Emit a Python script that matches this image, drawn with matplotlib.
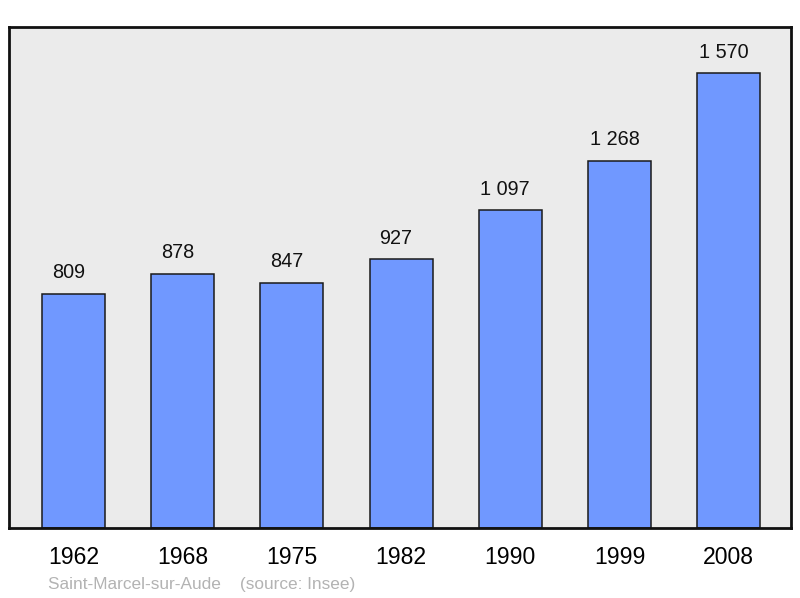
import matplotlib
matplotlib.use("Agg")
import matplotlib.pyplot as plt

years = ["1962", "1968", "1975", "1982", "1990", "1999", "2008"]
population = [809, 878, 847, 927, 1097, 1268, 1570]
value_labels = ["809", "878", "847", "927", "1 097", "1 268", "1 570"]
commune = "Saint-Marcel-sur-Aude"
source = "(source: Insee)"

plt.rcParams['font.family'] = ['Liberation Sans', 'DejaVu Sans']

fig = plt.figure(figsize=(8, 5.98), dpi=100)
ax = fig.add_axes([9/800, 70/598, 782/800, 501/598])
ax.set_facecolor('#ebebeb')

x = list(range(len(years)))
ax.bar(x, population, width=0.578, color='#7098ff', edgecolor='#1a1a1a', linewidth=1.1, zorder=2)
for xi, v, lab in zip(x, population, value_labels):
    ax.annotate(lab, (xi, v), xytext=(-5, 21), textcoords='offset pixels',
                ha='center', va='center', fontsize=14.3, color='#111111')

ax.set_xlim(-0.59, 6.57)
ax.set_ylim(0, 1729)
ax.set_xticks(x)
ax.set_xticklabels(years, fontsize=16.6)
ax.tick_params(axis='x', length=0, pad=13)
ax.set_yticks([])
for s in ax.spines.values():
    s.set_linewidth(2)
    s.set_color('#111111')

fig.text(48/800, 1 - 584/598, commune + "    " + source, fontsize=12.4,
         color='#b3b3b3', ha='left', va='center')

fig.savefig('out.png', dpi=100)
